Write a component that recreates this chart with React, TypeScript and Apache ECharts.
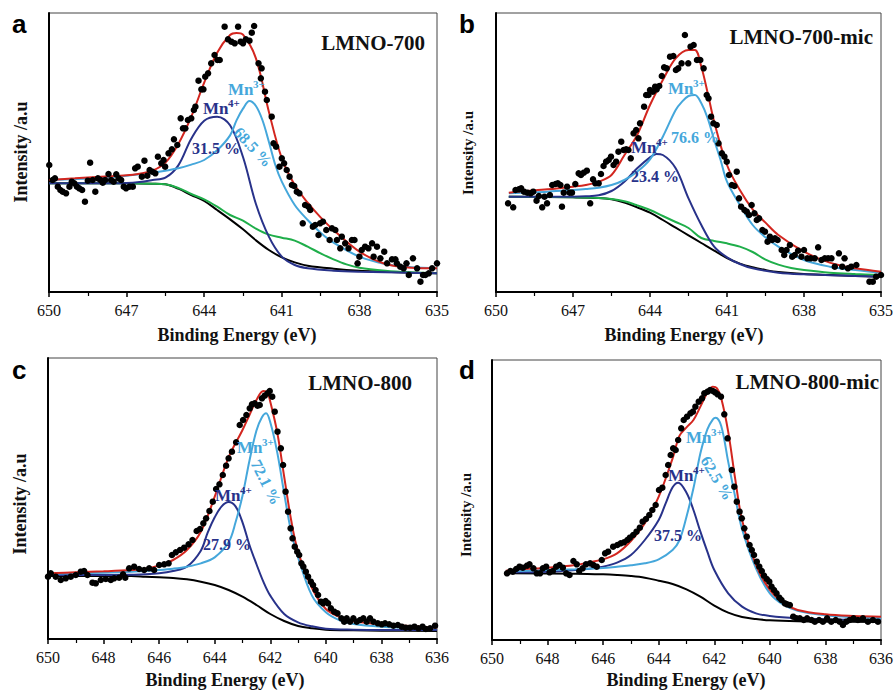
import React, { useEffect, useRef } from "react";
import * as echarts from "echarts";

type Pt = [number, number];

// ---------- LMNO-700 (binding energy eV, intensity a.u.) ----------
const lmno700Points: Pt[] = [
  [649.99, 381], [649.86, 336], [649.77, 341], [649.66, 316], [649.56, 306], [649.47, 301], [649.34, 296], [649.21, 316],
  [649.12, 331], [649.02, 326], [648.92, 316], [648.83, 311], [648.72, 306], [648.61, 271], [648.5, 334], [648.41, 388],
  [648.31, 336], [648.21, 301], [648.11, 341], [648.01, 336], [647.92, 328], [647.83, 336], [647.7, 354], [647.6, 336],
  [647.5, 331], [647.4, 353], [647.31, 341], [647.21, 336], [647.11, 316], [647.02, 311], [646.89, 316], [646.76, 316],
  [646.67, 371], [646.57, 376], [646.41, 346], [646.31, 394], [646.2, 349], [646.11, 366], [646.01, 361], [645.89, 356],
  [645.79, 406], [645.66, 386], [645.57, 396], [645.51, 376], [645.38, 416], [645.25, 428], [645.17, 458], [645.04, 441],
  [644.91, 521], [644.82, 491], [644.73, 491], [644.63, 516], [644.5, 521], [644.4, 546], [644.34, 556], [644.22, 634],
  [644.11, 608], [644.03, 608], [643.96, 646], [643.85, 656], [643.73, 686], [643.6, 711], [643.49, 696], [643.4, 696],
  [643.21, 796], [643.08, 758], [642.95, 751], [642.82, 746], [642.69, 796], [642.59, 751], [642.5, 746], [642.39, 758],
  [642.25, 754], [642.16, 778], [642.07, 798], [641.9, 686], [641.78, 671], [641.81, 641], [641.65, 601], [641.58, 576],
  [641.39, 526], [641.32, 446], [641.22, 436], [641.09, 376], [641.0, 401], [640.91, 386], [640.81, 366], [640.7, 346],
  [640.61, 321], [640.52, 318], [640.42, 301], [640.32, 296], [640.19, 206], [640.1, 261], [639.97, 256], [639.9, 246],
  [639.8, 196], [639.71, 201], [639.58, 171], [639.52, 206], [639.41, 211], [639.28, 186], [639.15, 156], [639.06, 191],
  [638.93, 186], [638.87, 156], [638.74, 131], [638.68, 166], [638.55, 146], [638.42, 131], [638.29, 156], [638.19, 156],
  [638.07, 86], [638.0, 106], [637.91, 126], [637.78, 136], [637.65, 131], [637.51, 146], [637.45, 106], [637.32, 136],
  [637.19, 101], [637.04, 121], [636.93, 86], [636.74, 98], [636.61, 98], [636.55, 86], [636.42, 76], [636.29, 71],
  [636.18, 86], [636.09, 51], [635.93, 101], [635.77, 71], [635.64, 31], [635.54, 51], [635.45, 51], [635.32, 56],
  [635.19, 71], [635.0, 86],
];
const lmno700Fit: Pt[] = [
  [650, 336], [649, 341], [648, 346], [647, 350], [646.5, 355], [646, 364], [645.5, 388], [645, 444], [644.5, 526],
  [644, 628], [643.5, 718], [643, 771], [642.75, 777], [642.5, 772], [642, 701], [641.5, 541], [641, 401], [640.5, 321],
  [640, 268], [639.5, 224], [639, 186], [638, 121], [637, 84], [636, 73], [635, 71],
];
const lmno700Mn3: Pt[] = [
  [650, 336], [649, 339], [648, 343], [647, 349], [646.5, 353], [646, 358], [645.5, 364], [645, 371], [644.5, 382],
  [644, 396], [643.5, 425], [643, 470], [642.75, 515], [642.5, 550], [642.25, 573], [642, 558], [641.75, 516],
  [641.5, 451], [641.25, 381], [641, 331], [640.5, 261], [640, 216], [639.5, 178], [639, 148], [638, 106], [637, 84],
  [636, 74], [635, 71],
];
const lmno700Mn4: Pt[] = [
  [650, 326], [648, 326], [647, 327], [646.5, 330], [646, 336], [645.5, 343], [645, 380], [644.5, 460], [644, 514],
  [643.5, 526], [643, 500], [642.5, 405], [642, 264], [641.5, 166], [641, 106], [640.5, 81], [640, 71], [639, 64],
  [638, 61], [636, 58], [635, 56],
];
const lmno700Shirley: Pt[] = [
  [650, 326], [648, 326], [647, 326], [646, 325], [645.5, 323], [645, 310], [644.5, 291], [644, 273], [643.5, 246],
  [643, 218], [642.5, 188], [642, 155], [641.5, 126], [641, 104], [640.5, 89], [640, 79], [639, 70], [638, 64],
  [637, 61], [636, 58], [635, 56],
];
const lmno700Baseline: Pt[] = [
  [650, 326], [648, 326], [647, 326], [646, 325], [645.5, 323], [645, 312], [644.5, 294], [644, 278], [643.5, 256],
  [643, 231], [642.5, 214], [642, 190], [641.5, 172], [641, 163], [640.5, 154], [640, 136], [639.5, 116], [639, 98],
  [638.5, 83], [638, 73], [637, 64], [636, 59], [635, 56],
];

// ---------- LMNO-700-mic ----------
const lmno700micPoints: Pt[] = [
  [649.53, 266], [649.33, 254], [649.24, 306], [649.11, 308], [649.02, 311], [648.91, 301], [648.78, 298], [648.65, 296],
  [648.55, 301], [648.42, 274], [648.33, 288], [648.2, 254], [648.11, 286], [648.01, 266], [647.9, 291], [647.81, 321],
  [647.68, 324], [647.59, 326], [647.49, 321], [647.43, 256], [647.36, 298], [647.23, 316], [647.13, 298], [647.04, 298],
  [646.91, 324], [646.78, 356], [646.69, 351], [646.58, 358], [646.46, 364], [646.33, 266], [646.22, 338], [646.13, 326],
  [646.0, 326], [645.91, 354], [645.81, 378], [645.71, 391], [645.61, 396], [645.52, 406], [645.42, 381], [645.32, 391],
  [645.23, 421], [645.12, 451], [645.03, 426], [644.93, 428], [644.84, 426], [644.75, 401], [644.64, 476], [644.54, 486],
  [644.45, 461], [644.39, 506], [644.23, 556], [644.15, 591], [644.06, 591], [644.0, 606], [643.89, 601], [643.8, 616],
  [643.74, 608], [643.64, 618], [643.54, 648], [643.45, 674], [643.35, 671], [643.22, 706], [643.09, 708], [642.99, 666],
  [642.9, 671], [642.77, 686], [642.64, 771], [642.51, 686], [642.42, 736], [642.3, 741], [642.17, 696], [642.04, 696],
  [641.91, 671], [641.79, 591], [641.72, 581], [641.62, 526], [641.53, 506], [641.4, 501], [641.33, 446], [641.2, 416],
  [641.1, 406], [641.01, 391], [640.92, 351], [640.81, 321], [640.71, 318], [640.62, 361], [640.53, 281], [640.45, 256],
  [640.32, 246], [640.23, 241], [640.14, 231], [640.04, 261], [639.93, 236], [639.84, 216], [639.75, 221], [639.62, 186],
  [639.52, 181], [639.42, 151], [639.33, 166], [639.24, 156], [639.13, 161], [639.03, 156], [638.87, 126], [638.77, 111],
  [638.68, 126], [638.55, 141], [638.46, 106], [638.36, 111], [638.23, 124], [638.1, 106], [638.0, 126], [637.87, 101],
  [637.74, 101], [637.58, 101], [637.45, 134], [637.32, 96], [637.19, 101], [637.06, 101], [636.93, 101], [636.8, 76],
  [636.64, 116], [636.51, 76], [636.42, 101], [636.29, 71], [636.16, 76], [635.96, 81], [635.45, 31], [635.32, 31],
  [635.19, 46], [635.0, 51],
];
const lmno700micFit: Pt[] = [
  [649.5, 298], [649, 302], [648, 308], [647, 316], [646.5, 321], [646, 331], [645.5, 351], [645, 410], [644.5, 471],
  [644, 561], [643.5, 636], [643, 701], [642.5, 726], [642.25, 726], [642, 676], [641.75, 596], [641.5, 511], [641, 381],
  [640.5, 306], [640, 248], [639.5, 208], [639, 171], [638, 121], [637, 88], [636, 71], [635, 61],
];
const lmno700micMn3: Pt[] = [
  [649.5, 296], [649, 298], [648, 301], [647, 306], [646.5, 309], [646, 313], [645.5, 321], [645, 336], [644.5, 361],
  [644, 398], [643.5, 466], [643, 546], [642.75, 571], [642.5, 588], [642.25, 591], [642, 566], [641.75, 521],
  [641.5, 456], [641.25, 396], [641, 331], [640.5, 261], [640, 201], [639.5, 164], [639, 136], [638, 96], [637, 76],
  [636, 66], [635, 58],
];
const lmno700micMn4: Pt[] = [
  [649.5, 286], [648, 286], [647, 286], [646.5, 287], [646, 290], [645.5, 303], [645, 331], [644.5, 371], [644, 404],
  [643.75, 414], [643.5, 411], [643, 371], [642.5, 281], [642, 201], [641.5, 136], [641, 104], [640.5, 84], [640, 71],
  [639, 58], [638, 53], [636, 48], [635, 46],
];
const lmno700micShirley: Pt[] = [
  [649.5, 286], [647, 284], [646, 282], [645.5, 278], [645, 268], [644.5, 254], [644, 238], [643.5, 216], [643, 193],
  [642.5, 170], [642, 147], [641.5, 124], [641, 102], [640.5, 85], [640, 74], [639.5, 66], [639, 60], [638, 54],
  [637, 51], [636, 48], [635, 46],
];
const lmno700micBaseline: Pt[] = [
  [649.5, 286], [647, 284], [646, 282], [645.5, 279], [645, 272], [644.5, 260], [644, 246], [643.5, 228], [643, 210],
  [642.5, 192], [642, 162], [641.5, 153], [641, 146], [640.5, 136], [640, 120], [639.5, 97], [639, 82], [638.5, 72],
  [638, 66], [637, 58], [636, 54], [635, 51],
];

// ---------- LMNO-800 ----------
const lmno800Points: Pt[] = [
  [650, 187], [649.9, 197], [649.72, 187], [649.54, 177], [649.36, 182], [649.18, 187], [649, 192], [648.82, 202],
  [648.7, 204], [648.58, 192], [648.4, 169], [648.28, 167], [648.1, 177], [647.92, 180], [647.74, 177], [647.62, 182],
  [647.44, 184], [647.3, 194], [647.22, 184], [647.08, 212], [646.9, 217], [646.72, 210], [646.54, 207], [646.36, 212],
  [646.18, 207], [646, 222], [645.82, 224], [645.66, 227], [645.54, 252], [645.4, 260], [645.25, 267], [645.1, 274],
  [644.94, 284], [644.8, 297], [644.65, 324], [644.53, 330], [644.41, 347], [644.31, 362], [644.19, 384], [644.07, 412],
  [643.95, 450], [643.83, 464], [643.71, 492], [643.59, 520], [643.5, 542], [643.38, 562], [643.23, 590], [643.1, 642],
  [642.98, 657], [642.86, 672], [642.74, 692], [642.66, 704], [642.56, 707], [642.46, 700], [642.38, 702], [642.3, 722],
  [642.2, 730], [642.1, 737], [642.02, 744], [641.93, 727], [641.84, 682], [641.74, 622], [641.62, 572], [641.54, 522],
  [641.45, 442], [641.36, 382], [641.27, 332], [641.2, 302], [641.12, 277], [641.03, 262], [640.96, 252], [640.88, 227],
  [640.81, 217], [640.72, 202], [640.64, 187], [640.54, 172], [640.46, 162], [640.37, 147], [640.28, 132], [640.18, 112],
  [640.1, 107], [640.01, 114], [639.92, 107], [639.82, 92], [639.7, 82], [639.58, 77], [639.44, 62], [639.34, 52],
  [639.25, 62], [639.13, 52], [639.01, 62], [638.89, 52], [638.77, 57], [638.65, 62], [638.53, 52], [638.41, 62],
  [638.29, 52], [638.13, 47], [637.99, 44], [637.87, 47], [637.72, 44], [637.57, 40], [637.41, 42], [637.27, 37],
  [637.13, 34], [636.97, 34], [636.81, 37], [636.67, 32], [636.52, 37], [636.4, 30], [636.25, 32], [636.07, 40],
];
const lmno800Fit: Pt[] = [
  [650, 197], [649, 200], [648, 203], [647, 207], [646.5, 211], [646, 221], [645.5, 237], [645, 267], [644.5, 322],
  [644, 427], [643.5, 545], [643, 627], [642.75, 672], [642.5, 717], [642.25, 744], [642.1, 738], [642, 712],
  [641.75, 620], [641.5, 487], [641.25, 357], [641, 262], [640.5, 153], [640, 90], [639.5, 66], [639, 53], [638, 44],
  [637, 39], [636, 34],
];
const lmno800Mn3: Pt[] = [
  [650, 195], [649, 197], [648, 199], [647, 202], [646.5, 204], [646, 207], [645.5, 211], [645, 217], [644.5, 227],
  [644, 245], [643.5, 290], [643.25, 350], [643, 430], [642.75, 535], [642.5, 625], [642.3, 665], [642.15, 677],
  [642, 650], [641.75, 560], [641.5, 437], [641.25, 322], [641, 245], [640.5, 130], [640, 80], [639.5, 56], [639, 45],
  [638, 37], [637, 34], [636, 32],
];
const lmno800Mn4: Pt[] = [
  [650, 192], [648, 192], [647, 193], [646.5, 194], [646, 197], [645.5, 204], [645, 217], [644.5, 265], [644.25, 320],
  [644, 365], [643.75, 398], [643.5, 411], [643.25, 398], [643, 350], [642.75, 282], [642.5, 225], [642.25, 172],
  [642, 130], [641.5, 75], [641, 50], [640.5, 38], [640, 31], [639, 28], [638, 27], [636, 27],
];
const lmno800Shirley: Pt[] = [
  [650, 189], [647, 189], [646.5, 187], [646, 185], [645.5, 183], [645, 179], [644.5, 172], [644, 162], [643.5, 147],
  [643, 127], [642.5, 102], [642, 75], [641.5, 54], [641, 39], [640.5, 32], [640, 28], [639, 26], [638, 25], [636, 24],
];

// ---------- LMNO-800-mic ----------
const lmno800micPoints: Pt[] = [
  [649.46, 200], [649.34, 207], [649.25, 205], [649.13, 213], [649.01, 220], [648.89, 217], [648.74, 223], [648.65, 227],
  [648.51, 215], [648.39, 200], [648.27, 200], [648.17, 215], [648.05, 220], [647.93, 203], [647.81, 207], [647.69, 220],
  [647.57, 225], [647.45, 217], [647.33, 200], [647.21, 195], [647.07, 237], [646.95, 227], [646.86, 207], [646.74, 215],
  [646.62, 227], [646.47, 230], [646.35, 225], [646.23, 220], [646.05, 240], [645.93, 260], [645.82, 265], [645.64, 280],
  [645.49, 285], [645.37, 290], [645.25, 293], [645.13, 300], [645.04, 307], [644.92, 315], [644.8, 325], [644.68, 337],
  [644.58, 355], [644.46, 363], [644.34, 375], [644.23, 390], [644.11, 405], [643.99, 450], [643.87, 457], [643.75, 495],
  [643.66, 525], [643.57, 555], [643.48, 575], [643.39, 570], [643.3, 600], [643.19, 635], [643.1, 660], [642.98, 670],
  [642.86, 680], [642.77, 685], [642.68, 700], [642.56, 715], [642.44, 725], [642.36, 740], [642.24, 745], [642.15, 750],
  [642.05, 747], [641.97, 743], [641.88, 737], [641.76, 730], [641.64, 677], [641.52, 605], [641.37, 510], [641.28, 460],
  [641.19, 415], [641.09, 385], [641.01, 365], [640.92, 335], [640.83, 310], [640.73, 285], [640.65, 270], [640.57, 255],
  [640.47, 235], [640.38, 220], [640.29, 207], [640.21, 193], [640.11, 183], [640.02, 175], [639.94, 160], [639.85, 150],
  [639.76, 140], [639.66, 127], [639.58, 120], [639.46, 110], [639.38, 107], [639.28, 105], [639.16, 70], [639.04, 65],
  [638.92, 65], [638.78, 60], [638.66, 65], [638.5, 60], [638.38, 55], [638.23, 60], [638.09, 55], [637.94, 65],
  [637.79, 55], [637.63, 60], [637.49, 55], [637.37, 45], [637.25, 55], [637.13, 60], [636.99, 65], [636.83, 60],
  [636.65, 65], [636.47, 55], [636.29, 60], [636.11, 55],
];
const lmno800micFit: Pt[] = [
  [649.5, 208], [649, 212], [648, 217], [647, 225], [646.5, 233], [646, 242], [645.5, 260], [645, 297], [644.5, 350],
  [644, 430], [643.5, 545], [643.25, 613], [643, 638], [642.75, 660], [642.5, 700], [642.25, 742], [642.05, 760],
  [641.9, 755], [641.75, 725], [641.5, 625], [641.25, 485], [641, 360], [640.5, 225], [640, 150], [639.5, 110],
  [639, 90], [638, 77], [637, 72], [636, 70],
];
const lmno800micMn3: Pt[] = [
  [649.5, 205], [649, 207], [648, 210], [647, 212], [646.5, 214], [646, 216], [645.5, 220], [645, 224], [644.5, 230],
  [644, 242], [643.5, 270], [643.25, 300], [643, 370], [642.75, 455], [642.5, 560], [642.25, 632], [642.05, 662],
  [641.95, 667], [641.75, 642], [641.5, 535], [641.25, 430], [641, 332], [640.5, 215], [640, 140], [639.5, 105],
  [639, 88], [638, 74], [637, 68], [636, 65],
];
const lmno800micMn4: Pt[] = [
  [649.5, 203], [648, 205], [647, 210], [646.5, 214], [646, 220], [645.5, 232], [645, 255], [644.5, 300], [644, 360],
  [643.75, 410], [643.5, 458], [643.3, 472], [643, 442], [642.75, 390], [642.5, 325], [642.25, 265], [642, 210],
  [641.5, 140], [641, 100], [640.5, 80], [640, 72], [639, 65], [638, 62], [636, 59],
];
const lmno800micShirley: Pt[] = [
  [649.5, 200], [647, 199], [646, 197], [645.5, 195], [645, 192], [644.5, 187], [644, 178], [643.5, 168], [643, 152],
  [642.5, 130], [642, 103], [641.5, 82], [641, 69], [640.5, 63], [640, 59], [639, 56], [638, 55], [636, 54],
];

const panelLetters = ["a", "b", "c", "d"];
const sampleNames = ["LMNO-700", "LMNO-700-mic", "LMNO-800", "LMNO-800-mic"];
const mn3Shares = ["68.5 %", "76.6 %", "72.1 %", "62.5 %"];
const mn4Shares = ["31.5 %", "23.4 %", "27.9 %", "37.5 %"];
const intensityMax = [837, 837, 843, 840];
const energyRanges: [number, number, number][] = [
  [635, 650, 3],
  [635, 650, 3],
  [636, 650, 2],
  [636, 650, 2],
];
const xTitle = "Binding Energy (eV)";
const yTitle = "Intensity /a.u";

const SERIF = '"Liberation Serif", "Times New Roman", Times, serif';
const SANS = '"Liberation Sans", Arial, Helvetica, sans-serif';
const RED = "#d3261f";
const LIGHT = "#45a7db";
const NAVY = "#28328a";
const GREEN = "#1fae4a";
const INK = "#111111";

const panels = [
  {
    grid: { left: 49, top: 13, width: 388, height: 279 },
    points: lmno700Points,
    curves: [
      { data: lmno700Shirley, color: "#000" },
      { data: lmno700Baseline, color: GREEN },
      { data: lmno700Mn4, color: NAVY },
      { data: lmno700Mn3, color: LIGHT },
      { data: lmno700Fit, color: RED },
    ],
    title: { x: 425, y: 43 },
    letter: { x: 12, y: 24 },
    xName: { x: 237, y: 335 },
    yName: { x: 21, y: 152, size: 18 },
    mn3: { x: 228, y: 89 },
    mn4: { x: 203, y: 108 },
    mn3Pct: { x: 253, y: 147, rot: -0.82, center: true },
    mn4Pct: { x: 192, y: 148 },
  },
  {
    grid: { left: 496, top: 13, width: 387, height: 279 },
    points: lmno700micPoints,
    curves: [
      { data: lmno700micShirley, color: "#000" },
      { data: lmno700micBaseline, color: GREEN },
      { data: lmno700micMn4, color: NAVY },
      { data: lmno700micMn3, color: LIGHT },
      { data: lmno700micFit, color: RED },
    ],
    title: { x: 873, y: 37 },
    letter: { x: 459, y: 24 },
    xName: { x: 684, y: 335 },
    yName: { x: 468, y: 153, size: 15 },
    mn3: { x: 668, y: 88 },
    mn4: { x: 631, y: 147 },
    mn3Pct: { x: 671, y: 137, rot: 0, center: false },
    mn4Pct: { x: 631, y: 176 },
  },
  {
    grid: { left: 48, top: 358, width: 389, height: 281 },
    points: lmno800Points,
    curves: [
      { data: lmno800Shirley, color: "#000" },
      { data: lmno800Mn4, color: NAVY },
      { data: lmno800Mn3, color: LIGHT },
      { data: lmno800Fit, color: RED },
    ],
    title: { x: 412, y: 383 },
    letter: { x: 12, y: 370 },
    xName: { x: 225, y: 680 },
    yName: { x: 20, y: 504, size: 18 },
    mn3: { x: 237, y: 447 },
    mn4: { x: 215, y: 495 },
    mn3Pct: { x: 266, y: 482, rot: -1.1, center: true },
    mn4Pct: { x: 203, y: 544 },
  },
  {
    grid: { left: 492, top: 360, width: 390, height: 280 },
    points: lmno800micPoints,
    curves: [
      { data: lmno800micShirley, color: "#000" },
      { data: lmno800micMn4, color: NAVY },
      { data: lmno800micMn3, color: LIGHT },
      { data: lmno800micFit, color: RED },
    ],
    title: { x: 879, y: 382 },
    letter: { x: 459, y: 370 },
    xName: { x: 686, y: 680 },
    yName: { x: 466, y: 515, size: 15 },
    mn3: { x: 686, y: 437 },
    mn4: { x: 668, y: 475 },
    mn3Pct: { x: 717, y: 478, rot: -1.03, center: true },
    mn4Pct: { x: 654, y: 535 },
  },
];

function text(
  x: number,
  y: number,
  str: string,
  font: string,
  fill: string,
  align: string = "left",
  rotation = 0
) {
  return {
    type: "text",
    x,
    y,
    rotation,
    z: 100,
    style: {
      text: str,
      font,
      fill,
      textAlign: align,
      textVerticalAlign: "middle",
    },
  };
}

function ionLabel(x: number, y: number, charge: string, color: string) {
  return [
    text(x, y, "Mn", `bold 17px ${SERIF}`, color),
    text(x + 25, y - 5, charge, `bold 11px ${SERIF}`, color),
  ];
}

function buildOption() {
  const grid: any[] = [];
  const xAxis: any[] = [];
  const yAxis: any[] = [];
  const series: any[] = [];
  const graphic: any[] = [];

  panels.forEach((p, i) => {
    const [xMin, xMax, step] = energyRanges[i];
    grid.push({ ...p.grid, show: true, borderColor: "#444", borderWidth: 1 });
    xAxis.push({
      type: "value",
      gridIndex: i,
      min: xMin,
      max: xMax,
      interval: step,
      inverse: true,
      axisLine: { onZero: false, lineStyle: { color: "#000", width: 2 } },
      axisTick: { length: 5, lineStyle: { color: "#000", width: 1.5 } },
      minorTick: { show: true, splitNumber: 2, length: 4, lineStyle: { color: "#000", width: 1.2 } },
      splitLine: { show: false },
      minorSplitLine: { show: false },
      axisLabel: { fontFamily: SERIF, fontSize: 16, color: INK, margin: 10 },
    });
    yAxis.push({
      type: "value",
      gridIndex: i,
      min: 0,
      max: intensityMax[i],
      axisLine: { show: true, onZero: false, lineStyle: { color: "#000", width: 2 } },
      axisTick: { show: false },
      axisLabel: { show: false },
      splitLine: { show: false },
    });
    p.curves.forEach((c) => {
      series.push({
        type: "line",
        xAxisIndex: i,
        yAxisIndex: i,
        data: c.data,
        smooth: 0.35,
        symbol: "none",
        lineStyle: { color: c.color, width: 2 },
        z: 2,
      });
    });
    series.push({
      type: "scatter",
      xAxisIndex: i,
      yAxisIndex: i,
      data: p.points,
      symbolSize: 6.5,
      itemStyle: { color: "#000", opacity: 1 },
      z: 3,
    });

    graphic.push(text(p.letter.x, p.letter.y, panelLetters[i], `bold 26px ${SANS}`, "#000"));
    graphic.push(text(p.title.x, p.title.y, sampleNames[i], `bold 21px ${SERIF}`, INK, "right"));
    graphic.push(text(p.xName.x, p.xName.y, xTitle, `bold 18px ${SERIF}`, INK, "center"));
    graphic.push(
      text(p.yName.x, p.yName.y, yTitle, `bold ${p.yName.size}px ${SERIF}`, INK, "center", Math.PI / 2)
    );
    graphic.push(...ionLabel(p.mn3.x, p.mn3.y, "3+", LIGHT));
    graphic.push(...ionLabel(p.mn4.x, p.mn4.y, "4+", NAVY));
    graphic.push(
      text(
        p.mn3Pct.x,
        p.mn3Pct.y,
        mn3Shares[i],
        `bold 16px ${SERIF}`,
        LIGHT,
        p.mn3Pct.center ? "center" : "left",
        p.mn3Pct.rot
      )
    );
    graphic.push(text(p.mn4Pct.x, p.mn4Pct.y, mn4Shares[i], `bold 16px ${SERIF}`, NAVY));
  });

  return {
    animation: false,
    backgroundColor: "#ffffff",
    grid,
    xAxis,
    yAxis,
    series,
    graphic: { elements: graphic },
  };
}

export default function App() {
  const ref = useRef<HTMLDivElement>(null);
  useEffect(() => {
    if (!ref.current) return;
    const chart = echarts.init(ref.current, undefined, { renderer: "svg" });
    chart.setOption(buildOption() as any);
    return () => chart.dispose();
  }, []);
  return (
    <div
      ref={ref}
      style={{ position: "fixed", left: 0, top: 0, width: 896, height: 692, background: "#fff" }}
    />
  );
}
